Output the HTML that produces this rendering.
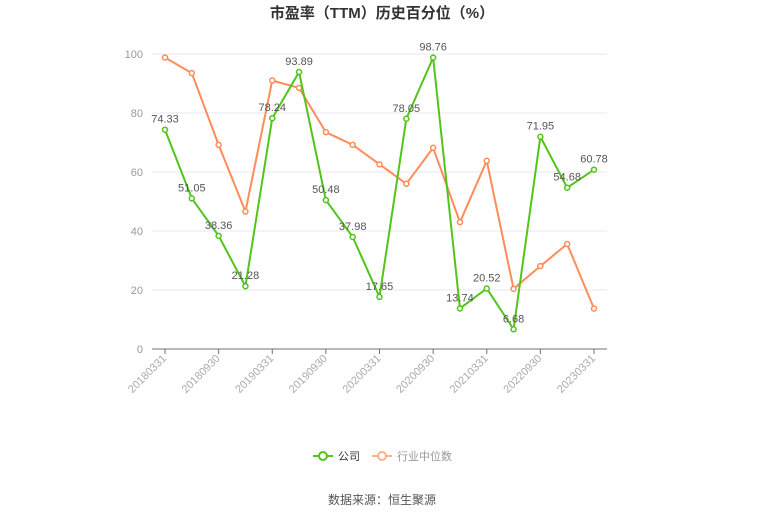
<!DOCTYPE html>
<html><head><meta charset="utf-8"><style>
body{margin:0;background:#fff;width:765px;height:517px;overflow:hidden;font-family:"Liberation Sans","Noto Sans CJK SC",sans-serif}
</style></head><body>
<svg id="c" width="765" height="517" xmlns="http://www.w3.org/2000/svg" font-family="Liberation Sans, Noto Sans CJK SC, sans-serif">
<text x="382" y="18" text-anchor="middle" font-size="15" font-weight="bold" fill="#333">市盈率（TTM）历史百分位（%）</text>
<g id="grid"></g><g id="axes"></g><g id="series"></g>
<g>
<g><line x1="313" y1="456" x2="333" y2="456" stroke="#52c41a" stroke-width="2"/><circle cx="323" cy="456" r="4" fill="#fff" stroke="#52c41a" stroke-width="2"/><text x="338" y="460" font-size="11" fill="#333">公司</text></g>
<g><line x1="372" y1="456" x2="392" y2="456" stroke="#ffb08c" stroke-width="2"/><circle cx="382" cy="456" r="4" fill="#fff" stroke="#ffb08c" stroke-width="2"/><text x="397" y="460" font-size="11" fill="#999">行业中位数</text></g>
</g>
<text x="382" y="504" text-anchor="middle" font-size="12" fill="#555">数据来源：恒生聚源</text>
</svg>
<script>
const categories=["20180331","20180630","20180930","20181231","20190331","20190630","20190930","20191231","20200331","20200630","20200930","20201231","20210331","20220630","20220930","20221231","20230331"];
const companyValues=[74.33,51.05,38.36,21.28,78.24,93.89,50.48,37.98,17.65,78.05,98.76,13.74,20.52,6.68,71.95,54.68,60.78];
const industryValues=[98.8,93.5,69.2,46.6,91,88.5,73.5,69.2,62.6,56,68.2,43,63.8,20.4,28.1,35.6,13.7];
const yTicks=[0,20,40,60,80,100];
const NS="http://www.w3.org/2000/svg";
const x0=165,x1=594,y0=349,y1=54;
const xs=i=>x0+(x1-x0)*i/(categories.length-1);
const ys=v=>y0-(y0-y1)*v/100;
function mk(tag,attrs,parent){const e=document.createElementNS(NS,tag);for(const k in attrs)e.setAttribute(k,attrs[k]);parent.appendChild(e);return e;}
const grid=document.getElementById('grid'),axes=document.getElementById('axes'),ser=document.getElementById('series');
yTicks.forEach(t=>{
 if(t>0){const l=mk('line',{x1:152,x2:607,y1:ys(t),y2:ys(t),stroke:'#e8e8f0'},grid);
 
 }
 const tx=mk('text',{x:143,y:ys(t)+4,'text-anchor':'end','font-size':11,fill:'#999'},axes);tx.textContent=t;
 
 
});
const ax=mk('line',{x1:152,x2:607,y1:y0,y2:y0,stroke:'#6e7079'},axes);


categories.forEach((c,i)=>{
 if(i%2)return;
 mk('line',{x1:xs(i),x2:xs(i),y1:y0,y2:y0+5,stroke:'#6e7079'},axes);
 const t=mk('text',{x:xs(i)+2,y:y0+10,'text-anchor':'end','font-size':11,fill:'#aaa',transform:`rotate(-45 ${xs(i)+2} ${y0+10})`},axes);t.textContent=c;
 
 
});
function series(vals,color,name,labels){
 const p=mk('polyline',{points:vals.map((v,i)=>xs(i)+','+ys(v)).join(' '),fill:'none',stroke:color,'stroke-width':2},ser);
 
 
 vals.forEach((v,i)=>{
  const c=mk('circle',{cx:xs(i),cy:ys(v),r:2.5,fill:'#fff',stroke:color,'stroke-width':1.5},ser);
  
  
  if(labels){const t=mk('text',{x:xs(i),y:ys(v)-7,'text-anchor':'middle','font-size':11,fill:'#555'},ser);t.textContent=v.toFixed(2);
  
  }
 });
}
series(industryValues,'#ff8c5a','industry-median',false);
series(companyValues,'#52c41a','company',true);
</script>
</body></html>
